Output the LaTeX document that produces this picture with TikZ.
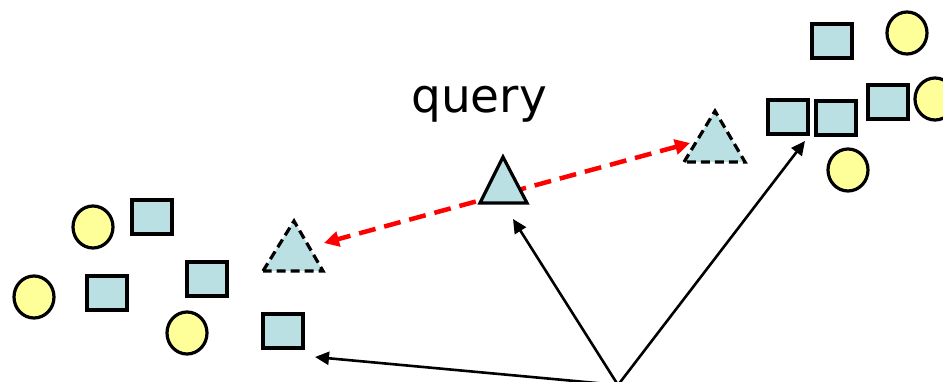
\documentclass[tikz,border=0pt]{standalone}
\usepackage{fontspec}
\setmainfont{DejaVu Sans}
\usetikzlibrary{arrows.meta,shapes.geometric}
\definecolor{boxblue}{RGB}{187,224,227}
\definecolor{dotyellow}{RGB}{255,255,153}
\tikzset{
  sq/.style={draw=black,line width=3.2pt,fill=boxblue,minimum width=40pt,minimum height=34pt,inner sep=0pt},
  dot/.style={draw=black,line width=3.2pt,fill=dotyellow,ellipse,minimum width=40pt,minimum height=42pt,inner sep=0pt},
  tri/.style={fill=boxblue,line width=3.2pt,line join=miter},
  guess/.style={tri,dash pattern=on 9pt off 5pt},
  link/.style={draw=black,line width=2.6pt,-{Triangle[length=14pt,width=13pt]}},
  dist/.style={draw=red,line width=4.5pt,dash pattern=on 17pt off 9pt,
    {Triangle[length=15pt,width=15pt]}-{Triangle[length=15pt,width=15pt]}}
}
\begin{document}
\begin{tikzpicture}[x=1pt,y=-1pt]
\useasboundingbox (0,0) rectangle (943,382);

% left group
\node[dot] (l1) at (93,227) {};
\node[sq]  (l2) at (152,217) {};
\node[dot] (l3) at (34,297) {};
\node[sq]  (l4) at (107,293) {};
\node[sq]  (l5) at (207,279) {};
\node[dot] (l6) at (187,333) {};
\node[sq]  (l7) at (283,331) {};

% right group
\node[sq]  (r1) at (832,41) {};
\node[dot] (r2) at (907,33) {};
\node[sq]  (r3) at (788,117) {};
\node[sq]  (r4) at (836,118) {};
\node[sq]  (r5) at (888,102) {};
\node[dot] (r6) at (935,99) {};
\node[dot] (r7) at (848,170) {};

% query label
\node[font=\fontsize{47}{52}\selectfont,inner sep=0pt] (label) at (479,104) {query};

% ends of the distance arrow
\coordinate (dl) at (324,243);
\coordinate (dr) at (690,143);
\draw[dist] (dr) -- (dl);

% candidate (dashed) triangles and the query triangle
\draw[guess] (263,271) -- (294,221) -- (323,271) -- cycle;
\draw[guess] (684,162) -- (715,111) -- (745,162) -- cycle;
\draw[tri,draw=black] (480,203) -- (503,157) -- (527,203) -- cycle;

% common source of the mapping arrows
\coordinate (src) at (618,385);
\coordinate (qend) at (513,219);
\coordinate (lend) at (315,357);
\coordinate (rend) at (805,141);
\draw[link] (src) -- (lend);
\draw[link] (src) -- (qend);
\draw[link] (src) -- (rend);
\end{tikzpicture}
\end{document}
